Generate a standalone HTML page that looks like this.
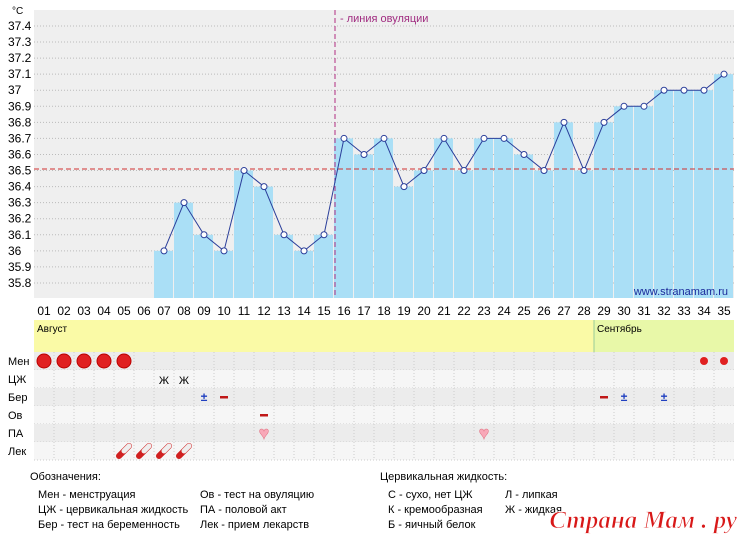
<!DOCTYPE html>
<html><head><meta charset="utf-8"><style>
body{margin:0;background:#fff;width:746px;height:538px;overflow:hidden}
svg{font-family:"Liberation Sans",sans-serif;display:block}
</style></head><body>
<svg width="746" height="538" xmlns="http://www.w3.org/2000/svg">
<rect x="34" y="10" width="700" height="288" fill="#efefef"/>
<g id="grid" stroke="#bbb" stroke-dasharray="1,2" stroke-width="1"></g>
<g id="bars" fill="#aadff6"></g>
<g id="lbl" font-size="12" fill="#000"></g>
<line x1="34" y1="169" x2="734" y2="169" stroke="#d03030" stroke-dasharray="5,3"/>
<line x1="335" y1="10" x2="335" y2="298" stroke="#b02c80" stroke-dasharray="5,3"/>
<text x="340" y="22" font-size="11" fill="#a02c80">- линия овуляции</text>
<polyline id="ln" fill="none" stroke="#2a3e9a" stroke-width="1"/>
<g id="pts" fill="#fff" stroke="#2a3e9a"></g>
<text x="728" y="295" font-size="11" fill="#1a2a9a" text-anchor="end">www.stranamam.ru</text>
<rect x="34" y="320" width="560" height="32" fill="#fafaa6"/>
<rect x="594" y="320" width="140" height="32" fill="#e8f8a8"/>
<line x1="594" y1="320" x2="594" y2="352" stroke="#9c9"/>
<text x="37" y="332" font-size="10">Август</text>
<text x="597" y="332" font-size="10">Сентябрь</text>
<g id="rows"></g>
<g id="marks"></g>
<g font-size="11" fill="#000">
<text x="30" y="480">Обозначения:</text>
<text x="38" y="498">Мен - менструация</text>
<text x="38" y="513">ЦЖ - цервикальная жидкость</text>
<text x="38" y="528">Бер - тест на беременность</text>
<text x="200" y="498">Ов - тест на овуляцию</text>
<text x="200" y="513">ПА - половой акт</text>
<text x="200" y="528">Лек - прием лекарств</text>
<text x="380" y="480">Цервикальная жидкость:</text>
<text x="388" y="498">С - сухо, нет ЦЖ</text>
<text x="388" y="513">К - кремообразная</text>
<text x="388" y="528">Б - яичный белок</text>
<text x="505" y="498">Л - липкая</text>
<text x="505" y="513">Ж - жидкая</text>
</g>
<text x="737" y="528" font-family="Liberation Serif,serif" font-style="italic" font-weight="bold" font-size="25" fill="#d81818" stroke="#fff" stroke-width="0.8" text-anchor="end">Страна Мам . ру</text>
</svg>
<script>
const NS="http://www.w3.org/2000/svg";
function el(p,t,a,txt){const e=document.createElementNS(NS,t);for(const k in a)e.setAttribute(k,a[k]);if(txt!==undefined)e.textContent=txt;document.getElementById(p).appendChild(e);return e}
const Y=v=>26+(37.4-v)*160.6;
const X=i=>44+20*(i-1);
const temps=["37.4","37.3","37.2","37.1","37","36.9","36.8","36.7","36.6","36.5","36.4","36.3","36.2","36.1","36","35.9","35.8"];
temps.forEach((t,k)=>{const y=26+k*16.06;el('grid','line',{x1:34,x2:734,y1:y,y2:y});el('lbl','text',{x:8,y:y+4},t)});
el('lbl','text',{x:12,y:14,'font-size':10},'°C');
const d={7:36.0,8:36.3,9:36.1,10:36.0,11:36.5,12:36.4,13:36.1,14:36.0,15:36.1,16:36.7,17:36.6,18:36.7,19:36.4,20:36.5,21:36.7,22:36.5,23:36.7,24:36.7,25:36.6,26:36.5,27:36.8,28:36.5,29:36.8,30:36.9,31:36.9,32:37.0,33:37.0,34:37.0,35:37.1};
let pts=[];
for(let i=7;i<=35;i++){const y=Y(d[i]);el('bars','rect',{x:X(i)-10,y:y,width:19,height:298-y});pts.push(X(i)+','+y)}
document.getElementById('ln').setAttribute('points',pts.join(' '));
for(let i=7;i<=35;i++)el('pts','circle',{cx:X(i),cy:Y(d[i]),r:3});
const dates=[4,5,6,7,8,9,10,11,12,13,14,15,16,17,18,19,20,21,22,23,24,25,26,27,28,29,30,31,1,2,3,4,5,6,7];
for(let i=1;i<=35;i++){el('lbl','text',{x:X(i),y:315,'text-anchor':'middle'},String(i).padStart(2,'0'));el('lbl','text',{x:X(i),y:346,'text-anchor':'middle'},String(dates[i-1]).padStart(2,'0'))}
const names=["Мен","ЦЖ","Бер","Ов","ПА","Лек"];
names.forEach((n,r)=>{const y=352+r*18;el('rows','rect',{x:34,y:y,width:700,height:18,fill:r%2==0?'#ececec':'#f6f6f6'});
el('rows','text',{x:8,y:y+13,'font-size':11},n);
el('rows','line',{x1:34,x2:734,y1:y+18,y2:y+18,stroke:'#ccc','stroke-dasharray':'1,2'});
for(let i=1;i<35;i++)el('rows','line',{x1:34+20*i,x2:34+20*i,y1:y,y2:y+18,stroke:'#ccc','stroke-dasharray':'1,2'});});
for(let i=1;i<=5;i++)el('marks','circle',{cx:X(i),cy:361,r:7,fill:'#e02020',stroke:'#b00'});
[34,35].forEach(i=>el('marks','circle',{cx:X(i),cy:361,r:4,fill:'#e02020'}));
[7,8].forEach(i=>el('marks','text',{x:X(i),y:384,'font-size':11,'text-anchor':'middle'},'Ж'));
[9,30,32].forEach(i=>el('marks','text',{x:X(i),y:401,'font-size':12,'font-weight':'bold',fill:'#2040c0','text-anchor':'middle'},'±'));
[10,29].forEach(i=>el('marks','rect',{x:X(i)-4,y:396,width:8,height:2.5,fill:'#c01818'}));
el('marks','rect',{x:X(12)-4,y:414,width:8,height:2.5,fill:'#c01818'});
[12,23].forEach(i=>el('marks','text',{x:X(i),y:439,'font-size':18,fill:'#f8a8b8',stroke:'#e07080','stroke-width':0.5,'text-anchor':'middle'},'♥'));
[5,6,7,8].forEach(i=>{el('marks','line',{x1:X(i)-5,y1:456,x2:X(i)+5,y2:446,stroke:'#d02020','stroke-width':6,'stroke-linecap':'round'});el('marks','line',{x1:X(i),y1:451,x2:X(i)+5,y2:446,stroke:'#eee','stroke-width':5,'stroke-linecap':'round'})});
</script>
</body></html>
